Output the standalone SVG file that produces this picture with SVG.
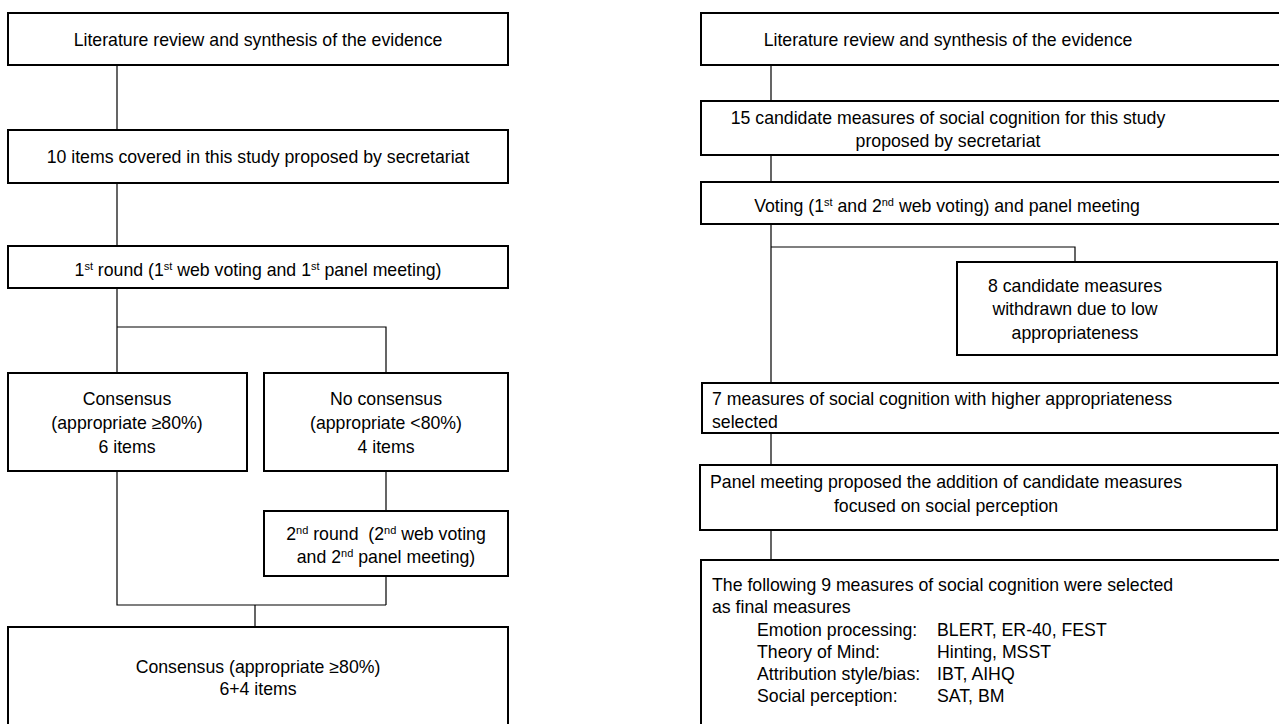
<svg xmlns="http://www.w3.org/2000/svg" width="1279" height="724" viewBox="0 0 1279 724">
<style>
.box{fill:#fff;stroke:#000;stroke-width:2}
.con{fill:none;stroke:#000;stroke-width:1.2}
text{font-family:"Liberation Sans",Arial,sans-serif;font-size:17.7px;fill:#000}
.c{text-anchor:middle}
.sup{font-size:11px}
</style>
<rect width="1279" height="724" fill="#fff"/>
<g id="connectors">
<path class="con" d="M117,65V130M117,183V246M117,288V373M117,327H386V373M117,471V605H386M386,471V511M386,576V605M255,605V627"/>
<path class="con" d="M771,65V101M771,155V182M771,224V383M771,247H1075V262M771,433V465M771,530V560"/>
</g>
<g id="L1"><rect class="box" x="8" y="13" width="500" height="52"/><text class="c" x="258" y="46">Literature review and synthesis of the evidence</text></g>
<g id="L2"><rect class="box" x="8" y="130" width="500" height="53"/><text class="c" x="258" y="163">10 items covered in this study proposed by secretariat</text></g>
<g id="L3"><rect class="box" x="8" y="246" width="500" height="42"/><text class="c" x="258" y="276">1<tspan class="sup" dy="-6">st</tspan><tspan dy="6"> round (1</tspan><tspan class="sup" dy="-6">st</tspan><tspan dy="6"> web voting and 1</tspan><tspan class="sup" dy="-6">st</tspan><tspan dy="6"> panel meeting)</tspan></text></g>
<g id="L4"><rect class="box" x="8" y="373" width="239" height="98"/><text class="c" x="127" y="405">Consensus</text><text class="c" x="127" y="429">(appropriate ≥80%)</text><text class="c" x="127" y="453">6 items</text></g>
<g id="L5"><rect class="box" x="264" y="373" width="244" height="98"/><text class="c" x="386" y="405">No consensus</text><text class="c" x="386" y="429">(appropriate &lt;80%)</text><text class="c" x="386" y="453">4 items</text></g>
<g id="L6"><rect class="box" x="264" y="511" width="244" height="65"/><text class="c" x="386" y="540">2<tspan class="sup" dy="-6">nd</tspan><tspan dy="6"> round &#160;(2</tspan><tspan class="sup" dy="-6">nd</tspan><tspan dy="6"> web voting</tspan></text><text class="c" x="386" y="563">and 2<tspan class="sup" dy="-6">nd</tspan><tspan dy="6"> panel meeting)</tspan></text></g>
<g id="L7"><rect class="box" x="8" y="627" width="500" height="110"/><text class="c" x="258" y="673">Consensus (appropriate ≥80%)</text><text class="c" x="258" y="695">6+4 items</text></g>
<g id="R1"><rect class="box" x="701" y="13" width="600" height="52"/><text class="c" x="948" y="46">Literature review and synthesis of the evidence</text></g>
<g id="R2"><rect class="box" x="701" y="101" width="600" height="54"/><text class="c" x="948" y="124">15 candidate measures of social cognition for this study</text><text class="c" x="948" y="147">proposed by secretariat</text></g>
<g id="R3"><rect class="box" x="701" y="182" width="600" height="42"/><text class="c" x="947" y="212">Voting (1<tspan class="sup" dy="-6">st</tspan><tspan dy="6"> and 2</tspan><tspan class="sup" dy="-6">nd</tspan><tspan dy="6"> web voting) and panel meeting</tspan></text></g>
<g id="R4"><rect class="box" x="957" y="262" width="320" height="93"/><text class="c" x="1075" y="292">8 candidate measures</text><text class="c" x="1075" y="315">withdrawn due to low</text><text class="c" x="1075" y="339">appropriateness</text></g>
<g id="R5"><rect class="box" x="702" y="383" width="600" height="50"/><text x="712" y="405">7 measures of social cognition with higher appropriateness</text><text x="712" y="428">selected</text></g>
<g id="R6"><rect class="box" x="700" y="465" width="577" height="65"/><text class="c" x="946" y="488">Panel meeting proposed the addition of candidate measures</text><text class="c" x="946" y="512">focused on social perception</text></g>
<g id="R7"><rect class="box" x="701" y="560" width="600" height="200"/>
<text x="712" y="591">The following 9 measures of social cognition were selected</text>
<text x="712" y="613">as final measures</text>
<text x="757" y="636">Emotion processing:</text><text x="937" y="636">BLERT, ER-40, FEST</text>
<text x="757" y="658">Theory of Mind:</text><text x="937" y="658">Hinting, MSST</text>
<text x="757" y="680">Attribution style/bias:</text><text x="937" y="680">IBT, AIHQ</text>
<text x="757" y="702">Social perception:</text><text x="937" y="702">SAT, BM</text>
</g>
</svg>
